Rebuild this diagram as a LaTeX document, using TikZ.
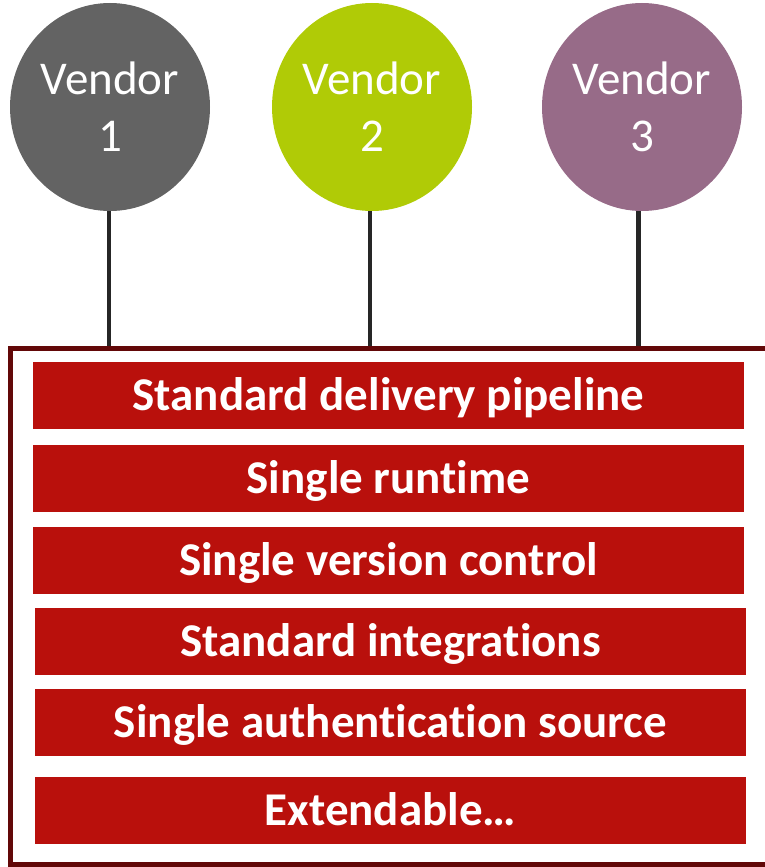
\documentclass[tikz,border=0pt]{standalone}
\usepackage{fontspec}
\setmainfont[Ligatures=NoCommon]{Carlito}
\usepackage{tikz}
\usetikzlibrary{shapes.geometric}
\usepackage{color}
\definecolor{vendorgrey}{RGB}{99, 99, 99}
\definecolor{vendorlime}{RGB}{176, 203, 6}
\definecolor{vendorplum}{RGB}{151, 107, 136}
\definecolor{layerred}{RGB}{185, 16, 12}
\definecolor{framered}{RGB}{98, 8, 8}
\definecolor{stemgrey}{RGB}{38, 38, 38}

\begin{document}
\begin{tikzpicture}[x=1pt, y=-1pt,
        vendor/.style={ellipse, minimum width=200pt, minimum height=208pt, inner sep=0pt,
                       text=white, align=center, font=\fontsize{47}{57}\selectfont},
        layer/.style={fill=layerred, minimum width=711pt, minimum height=67pt, inner sep=0pt,
                      text=white, text height=34pt, text depth=5pt, font=\fontsize{47}{57}\selectfont\bfseries},
        stem/.style={stemgrey, line width=4.5pt}]
            % Frame to ensure alignment:
            \useasboundingbox                                                 (  0.0,   0.0) rectangle (765.0, 867.0);
            % Vendors
            \node[vendor, fill=vendorgrey] (vendor1)                       at (110.0, 107.0) {Vendor\\1};
            \node[vendor, fill=vendorlime] (vendor2)                       at (372.0, 107.0) {Vendor\\2};
            \node[vendor, fill=vendorplum] (vendor3)                       at (642.0, 107.0) {Vendor\\3};
            % Stems down to the platform
            \coordinate (platform)                                         at (  0.0, 348.0);
            \draw[stem] ([xshift=-1pt]vendor1.south) -- ([xshift=-1pt]vendor1.south |- platform);
            \draw[stem] ([xshift=-2pt]vendor2.south) -- ([xshift=-2pt]vendor2.south |- platform);
            \draw[stem] ([xshift=-3.5pt]vendor3.south) -- ([xshift=-3.5pt]vendor3.south |- platform);
            % Platform frame
            \draw[framered, line width=5pt]                                   ( 10.0, 348.0) rectangle (772.0, 864.5);
            % Layers
            \node[layer] (pipeline)                                        at (388.5, 395.5) {Standard delivery pipeline};
            \node[layer] (runtime)                                         at (388.5, 478.5) {Single runtime};
            \node[layer] (versioning)                                      at (388.5, 560.5) {Single version control};
            \node[layer] (integrations)                                    at (390.5, 641.5) {Standard integrations};
            \node[layer] (authentication)                                  at (390.5, 722.5) {Single authentication source};
            \node[layer] (extensions)                                      at (390.5, 810.5) {Extendable…};
\end{tikzpicture}
\end{document}
